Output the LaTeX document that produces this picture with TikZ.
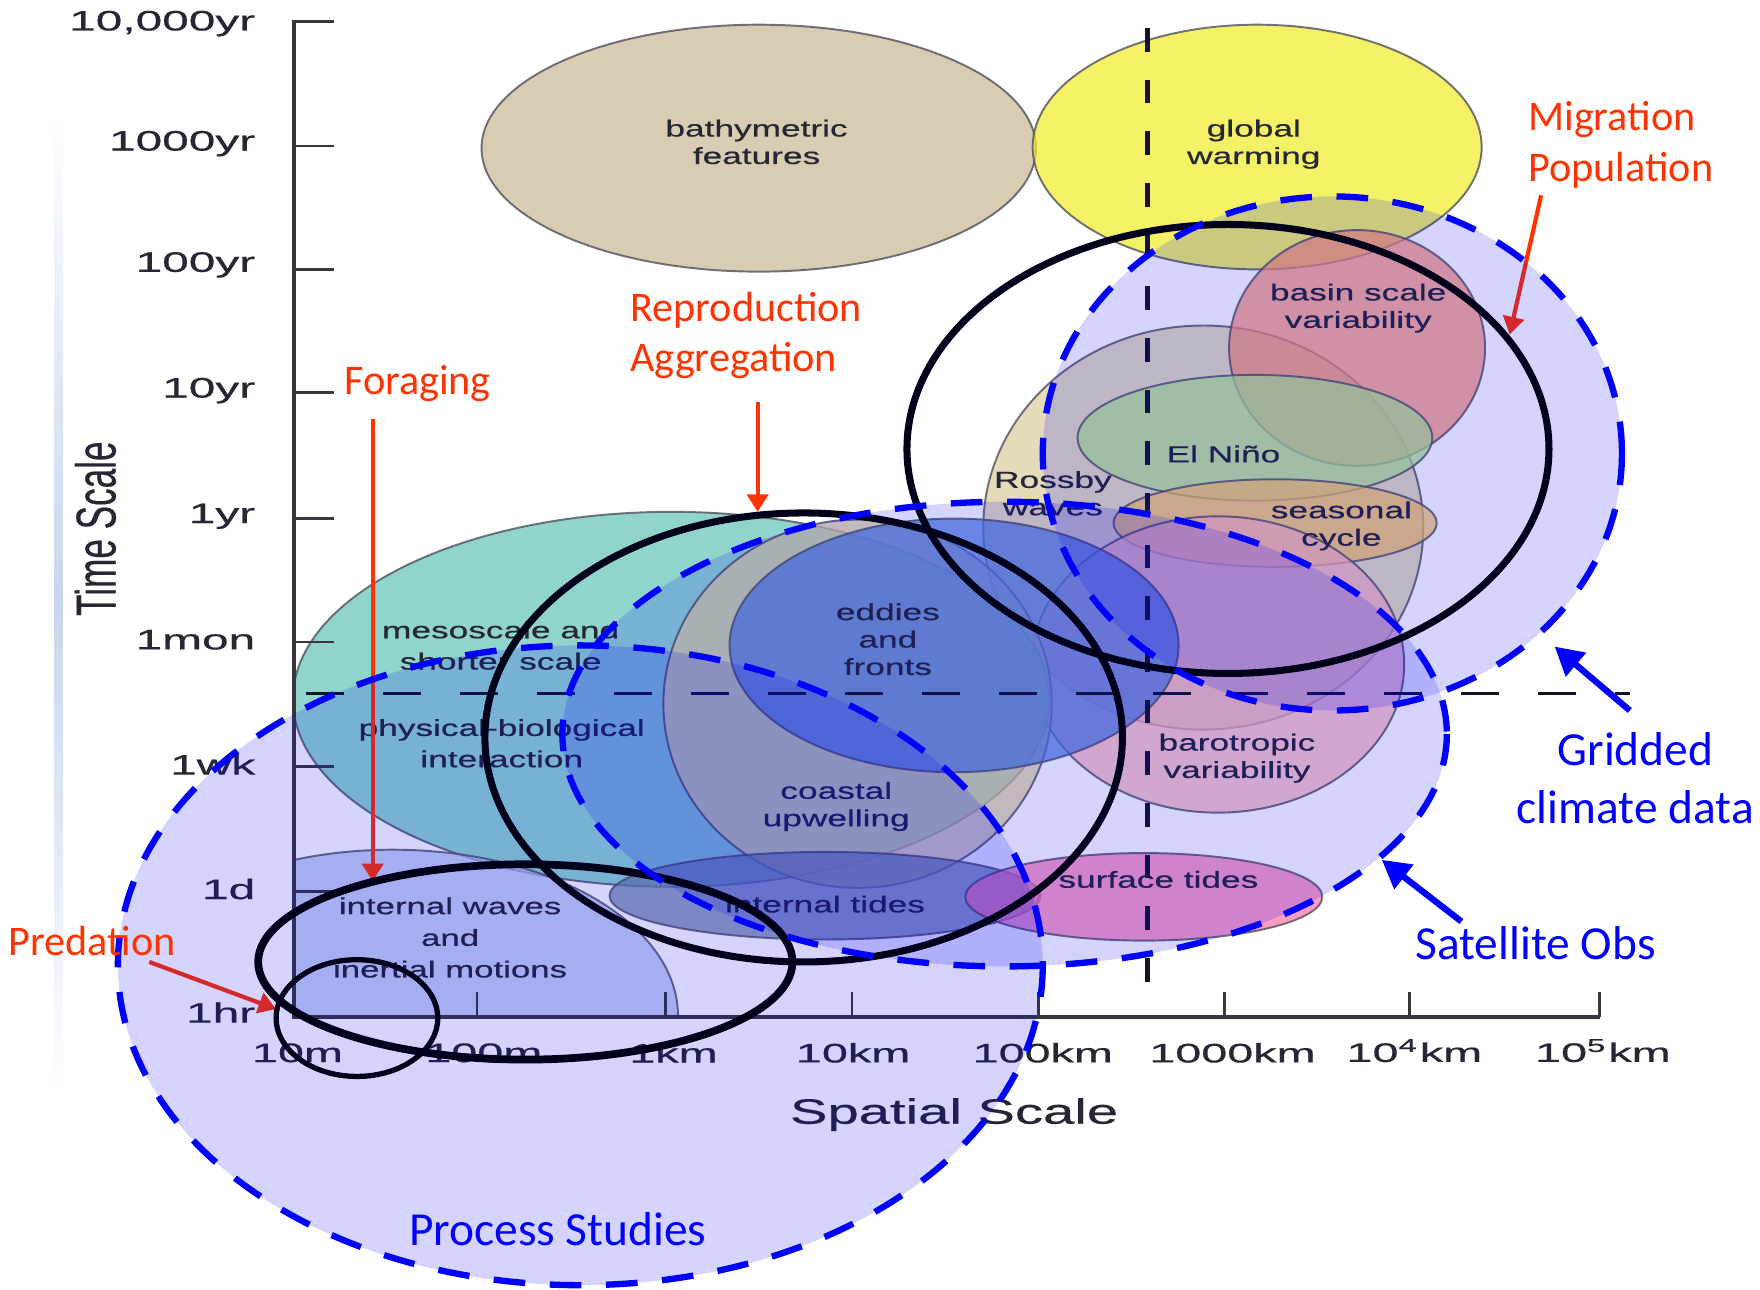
\documentclass[tikz,border=0pt]{standalone}
\usepackage{fontspec}
\usepackage{graphicx}
\usetikzlibrary{arrows.meta}

\newfontfamily\chartfont[FakeBold=0.45]{Liberation Sans}
\newfontfamily\notefont{Carlito}

\definecolor{axisgray}{RGB}{55,55,62}
\definecolor{chartink}{RGB}{38,38,52}
\definecolor{rimgray}{RGB}{80,80,92}
\definecolor{gridink}{RGB}{20,20,40}
\definecolor{annored}{RGB}{255,51,0}
\definecolor{annoblue}{RGB}{0,0,255}
\definecolor{ringink}{RGB}{0,0,26}
\definecolor{stripblue}{RGB}{200,214,238}

\definecolor{cBathy}{RGB}{201,186,149}
\definecolor{cWarm}{RGB}{242,236,45}
\definecolor{cRossby}{RGB}{220,204,160}
\definecolor{cMeso}{RGB}{102,198,184}
\definecolor{cCoast}{RGB}{226,212,150}
\definecolor{cEddy}{RGB}{80,125,215}
\definecolor{cBasin}{RGB}{250,145,110}
\definecolor{cNino}{RGB}{180,232,135}
\definecolor{cSeason}{RGB}{252,196,95}
\definecolor{cBaro}{RGB}{252,182,182}
\definecolor{cIWave}{RGB}{178,194,232}
\definecolor{cITide}{RGB}{110,130,160}
\definecolor{cSTide}{RGB}{250,120,172}

% chart text: Liberation Sans, widened horizontally
\newcommand{\chartlines}[3]{{\fontsize{6.6}{#1}\selectfont\scalebox{#2}[1]{\begin{tabular}{@{}c@{}}#3\end{tabular}}}}
\newcommand{\widen}[2]{\scalebox{#1}[1]{#2}}

\tikzset{
  blob/.style={draw=rimgray, line width=0.55pt, fill=#1, fill opacity=0.72, draw opacity=0.8},
  chartlbl/.style={text=chartink, inner sep=0pt, font=\chartfont},
  ticklbl/.style={text=chartink, inner sep=0pt, font=\chartfont\fontsize{8}{9}\selectfont},
  xticklbl/.style={text=chartink, inner sep=0pt, font=\chartfont\fontsize{7.6}{9}\selectfont},
  titlelbl/.style={text=chartink, inner sep=0pt, font=\chartfont\fontsize{10}{12}\selectfont},
  axisline/.style={draw=axisgray, line width=1pt},
  tickline/.style={draw=axisgray, line width=0.8pt},
  gridline/.style={draw=gridink, line width=1pt, dash pattern=on 10.8pt off 11.1pt},
  splitline/.style={draw=gridink, line width=1.4pt, dash pattern=on 6.7pt off 8pt},
  survey/.style={draw=annoblue, line width=1.8pt, dash pattern=on 9pt off 7pt},
  ring/.style={draw=ringink, line width=#1},
  ring/.default=2pt,
  redlbl/.style={text=annored, inner sep=0pt, font=\notefont\fontsize{12}{14.3}\selectfont},
  bluelbl/.style={text=annoblue, inner sep=0pt, font=\notefont\fontsize{13.5}{16.5}\selectfont},
  redarrow/.style={draw=annored, line width=1.2pt, -{Triangle[length=5pt,width=6pt]}},
  bluearrow/.style={draw=annoblue, line width=1.8pt, -{Triangle[length=8pt,width=8.5pt]}},
}

\begin{document}
\begin{tikzpicture}[x=0.11224mm, y=-0.11224mm]
\useasboundingbox (0,0) rectangle (1568,1149);
\fill[white] (0,0) rectangle (1568,1149);

% faint edge of the chart panel
\shade[top color=white, bottom color=white, middle color=stripblue] (48,100) rectangle (56,975);

% ---- phenomena ellipses ----
\draw[blob=cBathy]  (676,132)  ellipse [x radius=247, y radius=110];
\draw[blob=cWarm]   (1120,131) ellipse [x radius=200, y radius=109];
\draw[blob=cRossby] (1072,470) ellipse [x radius=196, y radius=180];
\draw[blob=cBasin]  (1209,310) ellipse [x radius=114, y radius=105];
\draw[blob=cNino]   (1118,390) ellipse [x radius=158, y radius=56];
\draw[blob=cSeason] (1136,466) ellipse [x radius=144, y radius=39];
\draw[blob=cBaro]   (1085,592) ellipse [x radius=166, y radius=132];
\draw[blob=cMeso]   (598,623)  ellipse [x radius=337, y radius=167];
\draw[blob=cCoast]  (764,627)  ellipse [x radius=173, y radius=164];
\draw[blob=cEddy]   (850,575)  ellipse [x radius=200, y radius=113];
\begin{scope}
  \clip (262,0) rectangle (1568,906);
  \draw[blob=cIWave] (350,905) ellipse [x radius=254, y radius=148];
\end{scope}
\draw[blob=cITide]  (735,798)  ellipse [x radius=192, y radius=39];
\draw[blob=cSTide]  (1019,799) ellipse [x radius=159, y radius=39];

% ---- phenomena labels ----
\node[chartlbl] (lBathy)  at (674,129)  {\chartlines{7.8}{1.52}{bathymetric\\features}};
\node[chartlbl] (lWarm)   at (1117,129) {\chartlines{7.8}{1.52}{global\\warming}};
\node[chartlbl] (lBasin)  at (1210,275) {\chartlines{7.8}{1.52}{basin scale\\variability}};
\node[chartlbl] (lNino)   at (1090,407) {\chartlines{7.8}{1.52}{El Niño}};
\node[chartlbl] (lRossby) at (938,442)  {\chartlines{7.8}{1.52}{Rossby\\waves}};
\node[chartlbl] (lSeason) at (1195,469) {\chartlines{7.8}{1.52}{seasonal\\cycle}};
\node[chartlbl] (lMeso)   at (446,577)  {\chartlines{8.9}{1.52}{mesoscale and\\shorter scale}};
\node[chartlbl] (lPhys)   at (447,664)  {\chartlines{8.9}{1.52}{physical-biological\\interaction}};
\node[chartlbl] (lEddy)   at (791,572)  {\chartlines{7.8}{1.52}{eddies\\and\\fronts}};
\node[chartlbl] (lCoast)  at (745,719)  {\chartlines{7.8}{1.52}{coastal\\upwelling}};
\node[chartlbl] (lBaro)   at (1102,676) {\chartlines{7.8}{1.52}{barotropic\\variability}};
\node[chartlbl] (lIWave)  at (401,837)  {\chartlines{9}{1.5}{internal waves\\and\\inertial motions}};
\node[chartlbl] (lITide)  at (735,808)  {\chartlines{7.8}{1.52}{internal tides}};
\node[chartlbl] (lSTide)  at (1032,786) {\chartlines{7.8}{1.52}{surface tides}};

% ---- axes ----
\draw[axisline] (298,19) -- (262,19) -- (262,906) -- (1425,906);
\foreach \ty in {130,240,350,462,572,683,794}
  \draw[tickline] (262,\ty) -- (298,\ty);
\foreach \tx in {425,593,759,925,1091,1256,1425}
  \draw[tickline] (\tx,906) -- (\tx,884);

\node[ticklbl, anchor=east] (y1) at (228,21)  {\widen{1.7}{10,000yr}};
\node[ticklbl, anchor=east] (y2) at (228,128) {\widen{1.7}{1000yr}};
\node[ticklbl, anchor=east] (y3) at (228,236) {\widen{1.7}{100yr}};
\node[ticklbl, anchor=east] (y4) at (228,348) {\widen{1.7}{10yr}};
\node[ticklbl, anchor=east] (y5) at (228,460) {\widen{1.7}{1yr}};
\node[ticklbl, anchor=east] (y6) at (228,570) {\widen{1.7}{1mon}};
\node[ticklbl, anchor=east] (y7) at (228,681) {\widen{1.7}{1wk}};
\node[ticklbl, anchor=east] (y8) at (228,792) {\widen{1.7}{1d}};
\node[ticklbl, anchor=east] (y9) at (228,902) {\widen{1.7}{1hr}};

\node[xticklbl] (x1) at (265,938)  {\widen{1.75}{10m}};
\node[xticklbl] (x2) at (431,938)  {\widen{1.75}{100m}};
\node[xticklbl] (x3) at (600,938)  {\widen{1.75}{1km}};
\node[xticklbl] (x4) at (760,938)  {\widen{1.75}{10km}};
\node[xticklbl] (x5) at (929,938)  {\widen{1.75}{100km}};
\node[xticklbl] (x6) at (1098,938) {\widen{1.75}{1000km}};
\node[xticklbl] (x7) at (1260,936) {\widen{1.75}{10\textsuperscript{4}km}};
\node[xticklbl] (x8) at (1428,936) {\widen{1.75}{10\textsuperscript{5}km}};

\node[titlelbl] (ytitle) at (85,471)  {\widen{1.6}{\rotatebox{90}{Time Scale}}};
\node[titlelbl] (xtitle) at (850,993) {\widen{1.6}{Spatial Scale}};

% ---- regime separators ----
\draw[splitline] (1022,25) -- (1022,898);
\draw[gridline] (273,618) -- (1452,618);

% ---- behaviour arrows ----
\coordinate (forageTail) at (332,373);
\coordinate (forageTip)  at (332,785);
\coordinate (reproTail)  at (675,358);
\coordinate (reproTip)   at (675,456);
\coordinate (migrTail)   at (1373,174);
\coordinate (migrTip)    at (1345,298);
\coordinate (predTail)   at (133,857);
\coordinate (predTip)    at (246,899);
\draw[redarrow] (forageTail) -- (forageTip);
\draw[redarrow] (reproTail) -- (reproTip);
\draw[redarrow] (migrTail) -- (migrTip);
\draw[redarrow] (predTail) -- (predTip);

% ---- observing systems (tinted areas) ----
\fill[annoblue, fill opacity=0.17] (517,860)  ellipse [x radius=412, y radius=285];
\fill[annoblue, fill opacity=0.17] (895,654)  ellipse [x radius=394, y radius=207];
\fill[annoblue, fill opacity=0.17] (1187,404) ellipse [x radius=258, y radius=229];

% ---- behaviour ranges ----
\draw[ring]        (1094,400) ellipse [x radius=286, y radius=200];
\draw[ring]        (716,657)  ellipse [x radius=284, y radius=200];
\draw[ring=2.2pt]  (468,857)  ellipse [x radius=238, y radius=87];
\draw[ring=1.5pt]  (318,907)  ellipse [x radius=72, y radius=52];

% ---- observing systems (outlines) ----
\draw[survey] (517,860)  ellipse [x radius=412, y radius=285];
\draw[survey] (895,654)  ellipse [x radius=394, y radius=207];
\draw[survey] (1187,404) ellipse [x radius=258, y radius=229];

\coordinate (gridTail) at (1452,633);
\coordinate (gridTip)  at (1385,576);
\coordinate (satTail)  at (1302,821);
\coordinate (satTip)   at (1231,766);
\draw[bluearrow] (gridTail) -- (gridTip);
\draw[bluearrow] (satTail) -- (satTip);

% ---- annotations ----
\node[redlbl] (forage) at (372,342) {Foraging};
\node[redlbl, anchor=west, align=left] (repro) at (561,299) {Reproduction\\Aggregation};
\node[redlbl, anchor=west, align=left] (migr) at (1361,129) {Migration\\Population};
\node[redlbl] (pred) at (82,838) {Predation};

\node[bluelbl, align=center] (gridded) at (1457,693) {Gridded\\climate data};
\node[bluelbl] (satobs) at (1368,840) {Satellite Obs};
\node[bluelbl] (process) at (497,1095) {Process Studies};
\end{tikzpicture}
\end{document}
